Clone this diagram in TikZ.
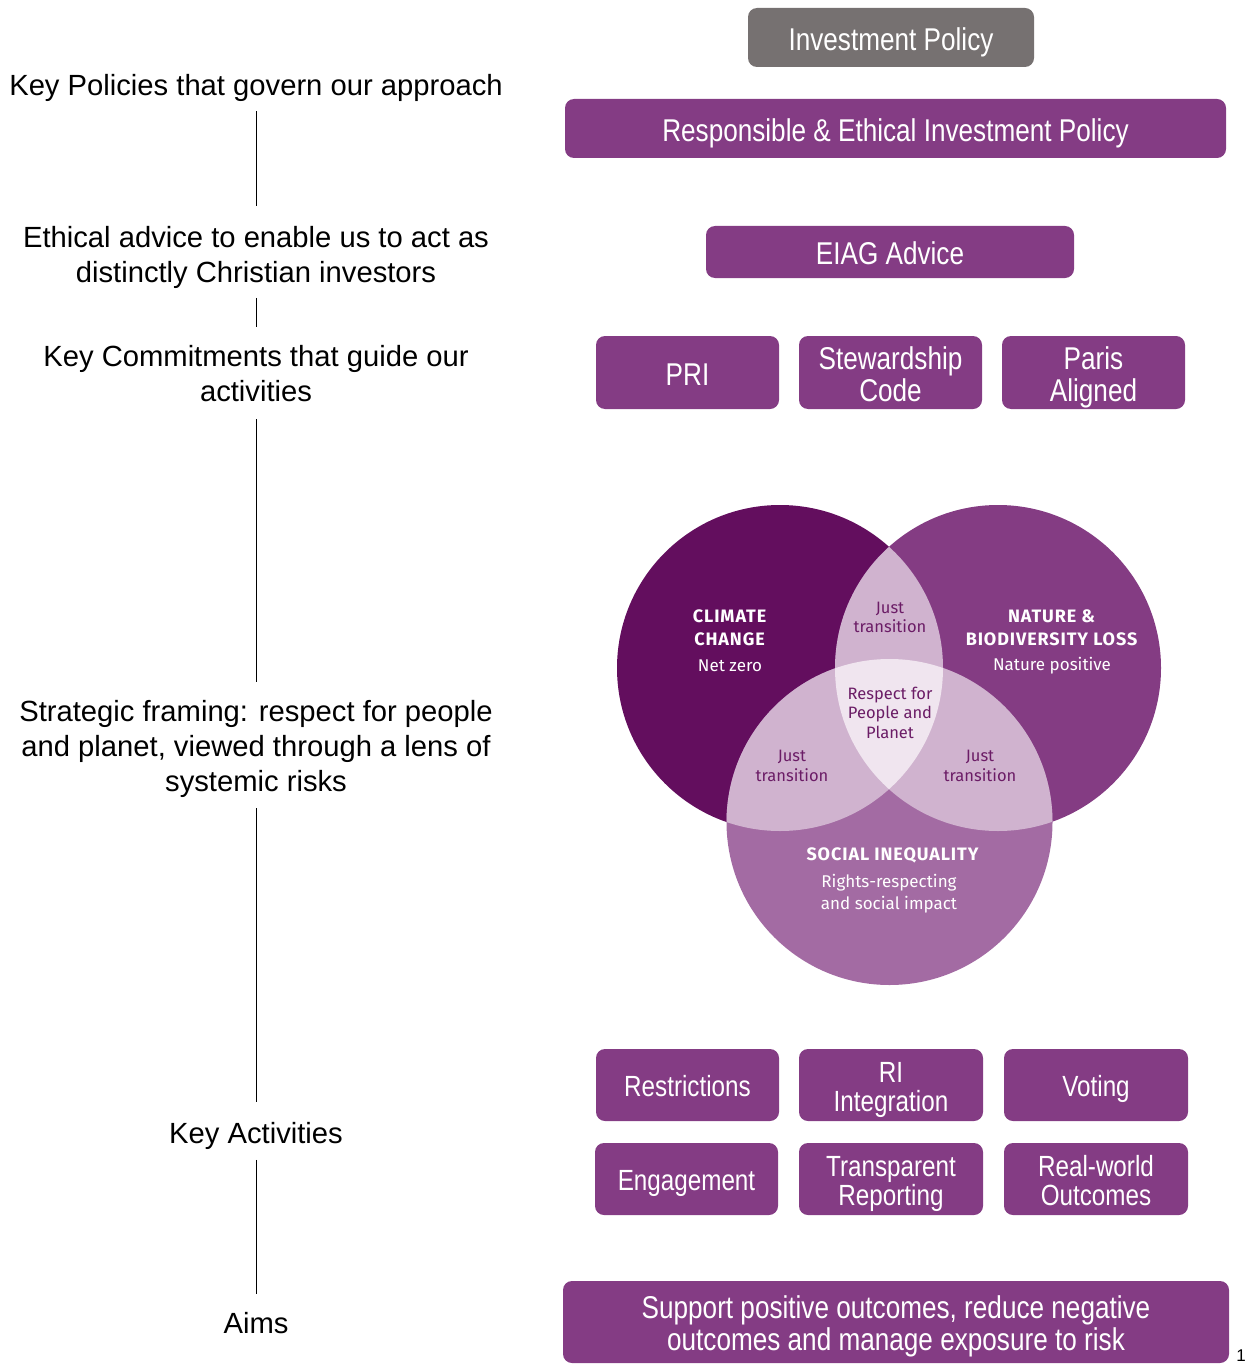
\documentclass[tikz,border=0pt]{standalone}
\usepackage{fontspec}
\setmainfont{Liberation Sans}
\newfontfamily\boxfont[FakeStretch=0.83]{Liberation Sans}
\newfontfamily\vennfont{Fira Sans}
\newfontfamily\venncapsfont[LetterSpace=5]{Fira Sans}
\definecolor{boxpurple}{HTML}{843C84}
\definecolor{boxgrey}{HTML}{767171}
\definecolor{climatec}{HTML}{630E5E}
\definecolor{naturec}{HTML}{843C83}
\definecolor{socialc}{HTML}{A36BA3}
\definecolor{overlapc}{HTML}{D0B3CF}
\definecolor{centrec}{HTML}{F0E5EF}
\definecolor{overtext}{HTML}{6B1C66}
% height-only strut for the first line, depth-only strut for the last line
\newcommand{\tstrut}{\rule{0pt}{32.6pt}}
\newcommand{\astrut}{\rule{0pt}{30.8pt}}
\newcommand{\bstrut}{\rule[-7pt]{0pt}{7pt}}
\begin{document}
\begin{tikzpicture}[x=1pt,y=-1pt,
  lefttext/.style={align=center, font=\fontsize{29.2}{35}\selectfont, inner sep=0pt},
  pbox/.style={rounded corners=9pt, fill=boxpurple, text=white, align=center,
    font=\boxfont\fontsize{31.5}{32}\selectfont, inner sep=0pt},
  abox/.style={pbox, font=\boxfont\fontsize{29.2}{29.5}\selectfont},
  vline/.style={draw=black, line width=0.9pt},
  venncap/.style={align=center, text=white, inner sep=0pt,
    font=\venncapsfont\fontsize{18}{23}\selectfont},
  vennsub/.style={align=center, text=white, inner sep=0pt,
    font=\vennfont\fontsize{17}{22.5}\selectfont},
  venninner/.style={align=center, text=overtext, inner sep=0pt,
    font=\vennfont\fontsize{16.5}{19.5}\selectfont}]
\useasboundingbox (0,0) rectangle (1250,1364);

% ---------- right column boxes ----------
\node[pbox, fill=boxgrey, minimum width=286pt, minimum height=59pt] (inv) at (891,37.5) {\tstrut Investment Policy\bstrut};
\node[pbox, minimum width=661pt, minimum height=59pt] (rei) at (895.5,128.5) {\tstrut Responsible \& Ethical Investment Policy\bstrut};
\node[pbox, minimum width=368pt, minimum height=52pt] (eiag) at (890,252) {\tstrut EIAG Advice\bstrut};
\node[pbox, minimum width=183pt, minimum height=73pt] (pri) at (687.5,372.5) {\tstrut PRI\bstrut};
\node[pbox, minimum width=183pt, minimum height=73pt] (stew) at (890.5,372.5) {\tstrut Stewardship\\Code\bstrut};
\node[pbox, minimum width=183pt, minimum height=73pt] (paris) at (1093.5,372.5) {\tstrut Paris\\Aligned\bstrut};

\node[abox, minimum width=183pt, minimum height=72pt] (restr) at (687.5,1085) {\astrut Restrictions\bstrut};
\node[abox, minimum width=184pt, minimum height=72pt] (riint) at (891,1085) {\astrut RI\\Integration\bstrut};
\node[abox, minimum width=184pt, minimum height=72pt] (voting) at (1096,1085) {\astrut Voting\bstrut};
\node[abox, minimum width=183pt, minimum height=72pt] (engage) at (686.5,1179) {\astrut Engagement\bstrut};
\node[abox, minimum width=184pt, minimum height=72pt] (transp) at (891,1179) {\astrut Transparent\\Reporting\bstrut};
\node[abox, minimum width=184pt, minimum height=72pt] (realw) at (1096,1179) {\astrut Real-world\\Outcomes\bstrut};
\node[pbox, minimum width=666pt, minimum height=82pt] (aimsbox) at (896,1322) {\tstrut Support positive outcomes, reduce negative\\outcomes and manage exposure to risk\bstrut};

\node[inner sep=0pt, font=\fontsize{17}{17}\selectfont] (pagenum) at (1241,1355.5) {1};

% ---------- left column ----------
\node[lefttext] (kp) at (256,87.5) {Key Policies that govern our approach};
\node[lefttext] (ea) at (256,257) {Ethical advice to enable us to act as\\distinctly Christian investors};
\node[lefttext] (kc) at (256,374) {Key Commitments that guide our\\activities};
\node[lefttext] (sf) at (256,748.5) {Strategic framing: respect for people\\and planet, viewed through a lens of\\systemic risks};
\node[lefttext] (ka) at (256,1136) {Key Activities};
\node[lefttext] (aims) at (256,1323.5) {Aims};

\draw[vline, shorten <=10pt, shorten >=19.5pt] (kp.south) -- (ea.north);
\draw[vline, shorten <=9.5pt, shorten >=19pt] (ea.south) -- (kc.north);
\draw[vline, shorten <=17pt, shorten >=18pt] (kc.south) -- (sf.north);
\draw[vline, shorten <=11pt, shorten >=20pt] (sf.south) -- (ka.north);
\draw[vline, shorten <=10pt, shorten >=19pt] (ka.south) -- (aims.north);

% ---------- Venn diagram ----------
\def\cL{(780,668) circle [radius=163]}
\def\cR{(998,668) circle [radius=163]}
\def\cB{(889.5,822) circle [radius=163]}
\fill[climatec] \cL;
\fill[naturec] \cR;
\fill[socialc] \cB;
\begin{scope}\clip \cL; \fill[overlapc] \cR; \end{scope}
\begin{scope}\clip \cL; \fill[overlapc] \cB; \end{scope}
\begin{scope}\clip \cR; \fill[overlapc] \cB; \end{scope}
\begin{scope}\clip \cL; \clip \cR; \fill[centrec] \cB; \end{scope}

\node[venncap] (cch) at (730,627.5) {\textbf{CLIMATE}\\\textbf{CHANGE}};
\node[vennsub] (nz) at (730,665.5) {Net zero};
\node[venncap] (nbl) at (1052,627.5) {\textbf{NATURE \&}\\\textbf{BIODIVERSITY LOSS}};
\node[vennsub] (np) at (1052,665.5) {Nature positive};
\node[venncap] (si) at (893,855) {\textbf{SOCIAL INEQUALITY}};
\node[vennsub] (rr) at (889,893.5) {Rights-respecting\\and social impact};
\node[venninner] (jt1) at (890,617.5) {Just\\transition};
\node[venninner] (jt2) at (792,766) {Just\\transition};
\node[venninner] (jt3) at (980,766) {Just\\transition};
\node[venninner] (rpp) at (890,712.5) {Respect for\\People and\\Planet};
\end{tikzpicture}
\end{document}
